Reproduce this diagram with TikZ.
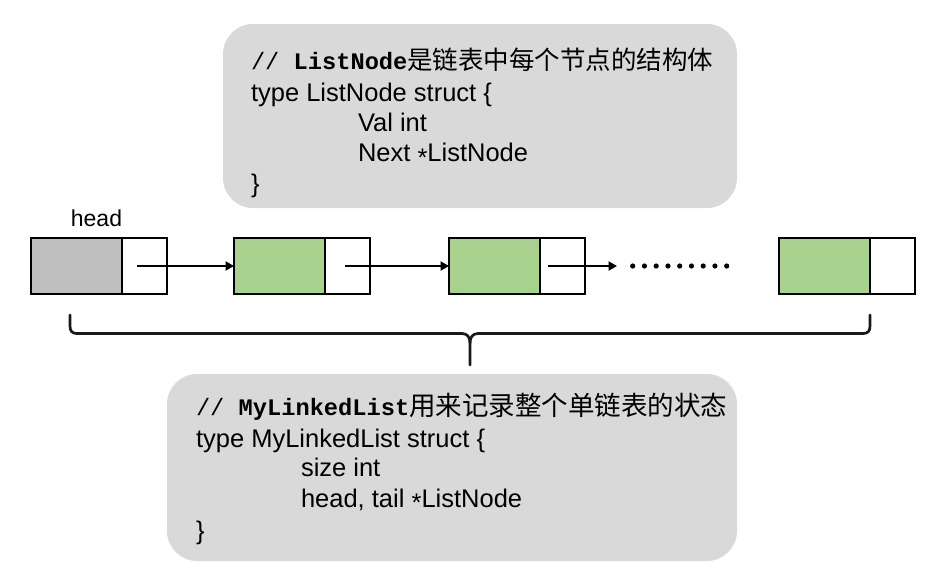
\documentclass[tikz,border=0pt]{standalone}
\usepackage{fontspec}
\setmainfont{Liberation Sans}
\newfontfamily\cjk{Noto Sans CJK SC}
\newfontfamily\mono{Liberation Mono}
\usetikzlibrary{arrows.meta}
\definecolor{boxgray}{RGB}{217,217,217}
\definecolor{headgray}{RGB}{191,191,191}
\definecolor{nodegreen}{RGB}{169,209,142}
\newcommand{\ptrstar}{\raisebox{-0.35ex}{*}}
\begin{document}
\begin{tikzpicture}[x=1pt,y=-1pt,
  infobox/.style={fill=boxgray,rounded corners=30pt},
  codeline/.style={anchor=base west,inner sep=0pt,outer sep=0pt,font=\fontsize{25.5}{30}\selectfont},
  cell/.style={draw=black,line width=2.3pt,minimum height=56.5pt,inner sep=0pt,outer sep=0pt},
  datacell/.style={cell,minimum width=91pt},
  ptrcell/.style={cell,fill=white,minimum width=45pt},
  link/.style={line width=2.5pt,-{Triangle[length=8.5pt,width=9pt]}},
  bracestyle/.style={line width=2.7pt,draw=black!90,line cap=round,line join=round}]
\useasboundingbox (0,0) rectangle (935,579);

% info boxes
\fill[infobox] (223,24) rectangle (737,208);
\fill[infobox] (167,374) rectangle (737,561);

% top code
\node[codeline] (t1) at (251,69.5) {{\mono\fontsize{23.7}{30}\selectfont //~}{\mono\bfseries\fontsize{23.7}{30}\selectfont ListNode}{\cjk\fontsize{25.5}{30}\selectfont 是链表中每个节点的结构体}};
\node[codeline] (t2) at (251,101.5) {type ListNode struct \{};
\node[codeline] (t3) at (358,131.5) {Val int};
\node[codeline] (t4) at (358,161.5) {Next \ptrstar ListNode};
\node[codeline] (t5) at (251,192) {\}};

% bottom code
\node[codeline] (b1) at (196,415.5) {{\mono\fontsize{23.7}{30}\selectfont //~}{\mono\bfseries\fontsize{23.7}{30}\selectfont MyLinkedList}{\cjk\fontsize{26.5}{30}\selectfont 用来记录整个单链表的状态}};
\node[codeline] (b2) at (196,447) {type MyLinkedList struct \{};
\node[codeline] (b3) at (301,476.5) {size int};
\node[codeline] (b4) at (301,507) {head, tail \ptrstar ListNode};
\node[codeline] (b5) at (196,539) {\}};

% list nodes
\node[datacell,fill=headgray] (d1) at (76.5,266) {};
\node[ptrcell] (p1) at (144.5,266) {};
\node[datacell,fill=nodegreen] (d2) at (279.5,266) {};
\node[ptrcell] (p2) at (347.5,266) {};
\node[datacell,fill=nodegreen] (d3) at (494.5,266) {};
\node[ptrcell] (p3) at (562.5,266) {};
\node[datacell,fill=nodegreen] (d4) at (824.5,266) {};
\node[ptrcell] (p4) at (892.5,266) {};

\node[anchor=base,inner sep=0pt,font=\fontsize{23}{26}\selectfont] (headlbl) at (96.5,226.5) {head};

% links
\coordinate (e3) at (617,266);
\draw[link] ([xshift=-7.5pt]p1.center) -- (d2.west);
\draw[link] ([xshift=-2.5pt]p2.center) -- (d3.west);
\draw[link] ([xshift=-14.5pt]p3.center) -- (e3);

% dots
\foreach \i in {0,...,8} {
  \fill (632.7+\i*11.75,266) circle (2.6pt);
}

% brace
\draw[bracestyle] (70,315) -- (70,326) .. controls (70,331) and (72,333.5) .. (77,333.5) -- (462,333.5) .. controls (467,333.5) and (470,337) .. (470,343) -- (470,365);
\draw[bracestyle] (870,315) -- (870,326) .. controls (870,331) and (868,333.5) .. (863,333.5) -- (478,333.5) .. controls (473,333.5) and (470,337) .. (470,343);
\end{tikzpicture}
\end{document}
